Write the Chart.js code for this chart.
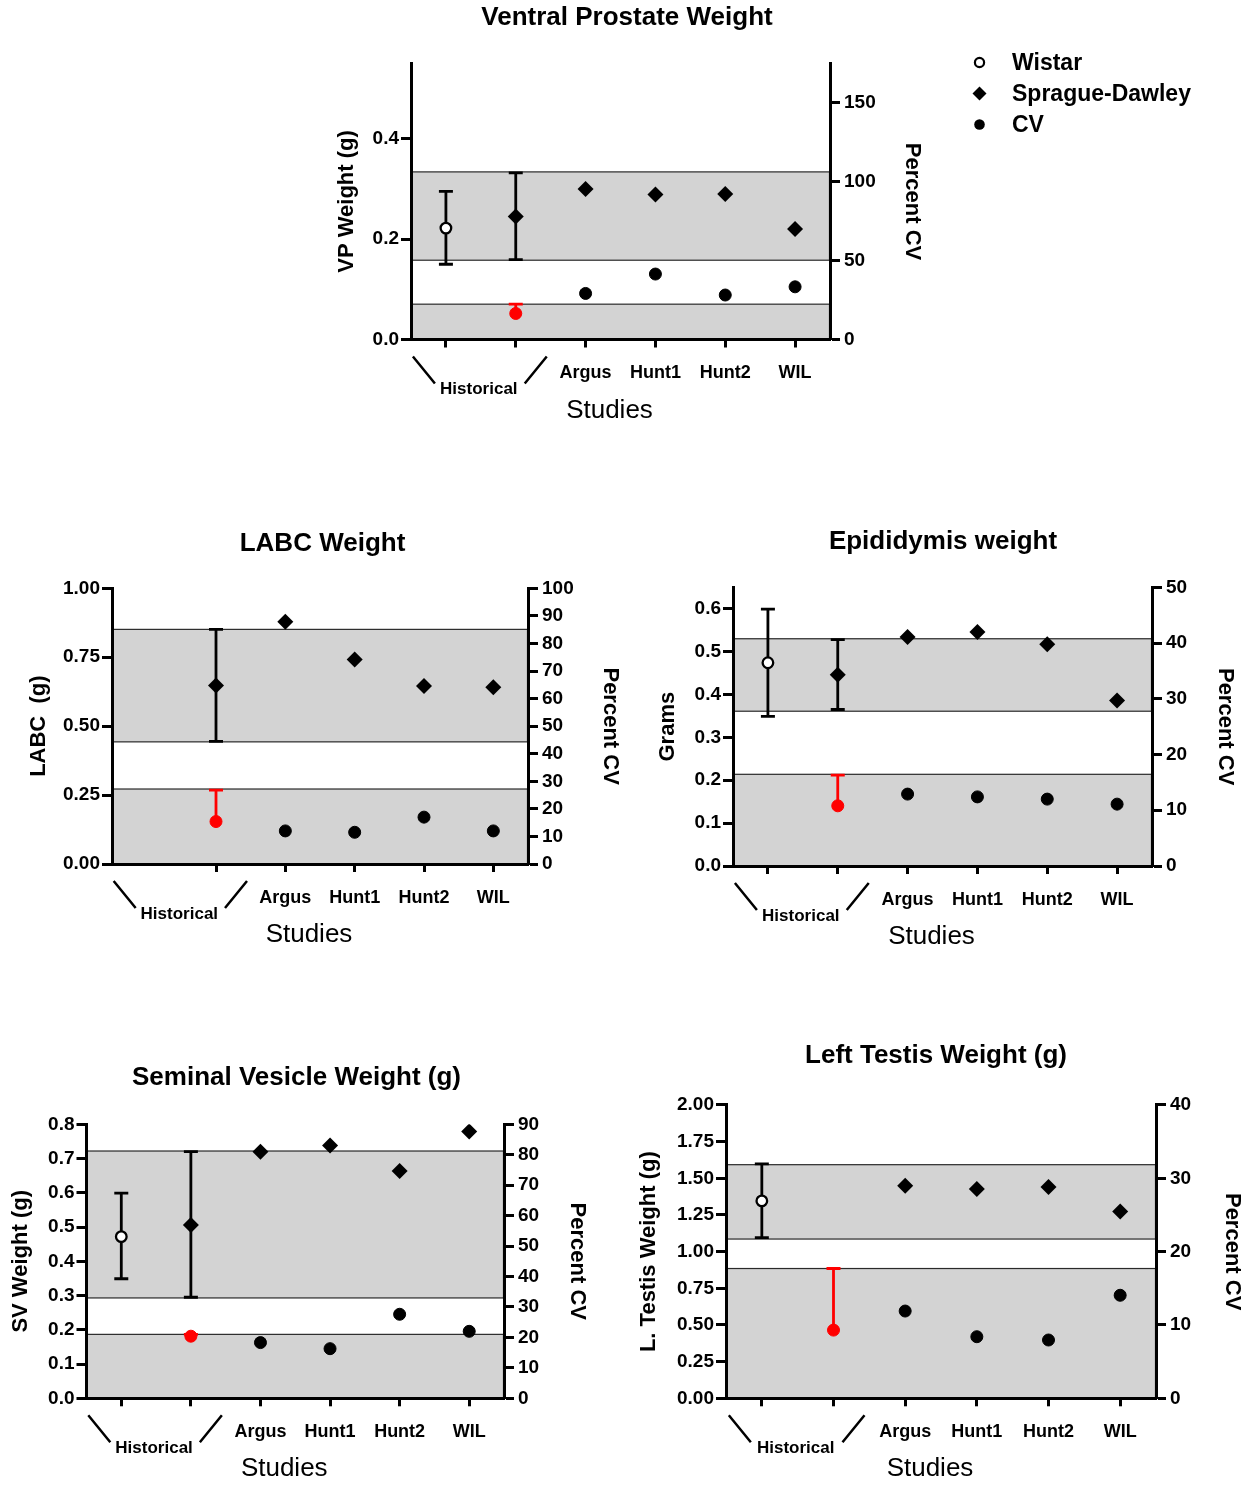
<!DOCTYPE html>
<html>
<head>
<meta charset="utf-8">
<title>Organ weights – historical control ranges</title>
<script src="https://cdn.jsdelivr.net/npm/chart.js@4.4.1/dist/chart.umd.min.js"></script>
<style>
  html, body { margin:0; padding:0; background:#ffffff; }
  #page { position:relative; width:1248px; height:1488px; overflow:hidden; background:#fff; }
  #page canvas { position:absolute; }
  .legend-item { position:absolute; left:969px; height:30px; display:flex; align-items:center;
    font-family:'Liberation Sans', Arial, Helvetica, sans-serif; font-weight:bold; font-size:23px;
    color:#000; white-space:nowrap; z-index:2; }
  .legend-item svg { width:21px; height:21px; margin-right:22px; flex:none; }
</style>
</head>
<body>
<div id="page">
  <canvas id="cVP"></canvas>
  <canvas id="cLABC"></canvas>
  <canvas id="cEPI"></canvas>
  <canvas id="cSV"></canvas>
  <canvas id="cTES"></canvas>
  <div id="legend"></div>
</div>
<script>
// ---------------- shared labels ----------------
const categories = ['Historical Wistar', 'Historical Sprague-Dawley', 'Argus', 'Hunt1', 'Hunt2', 'WIL'];
const categoryTickLabels = ['', '', 'Argus', 'Hunt1', 'Hunt2', 'WIL'];
const groupLabel = 'Historical';
const xAxisTitle = 'Studies';
const rightAxisTitle = 'Percent CV';
const legendLabels = ['Wistar', 'Sprague-Dawley', 'CV'];

// ---------------- Ventral Prostate ----------------
const vpTitle = 'Ventral Prostate Weight';
const vpAxisTitle = 'VP Weight (g)';
const vpWistar      = [0.222, null, null, null, null, null];
const vpWistarLow   = [0.150, null, null, null, null, null];
const vpWistarHigh  = [0.295, null, null, null, null, null];
const vpSD          = [null, 0.245, 0.300, 0.289, 0.290, 0.220];
const vpSDLow       = [null, 0.159, null, null, null, null];
const vpSDHigh      = [null, 0.332, null, null, null, null];
const vpCV          = [null, 16.5, 29.2, 41.5, 28.2, 33.4];
const vpCVHigh      = [null, 22.4, null, null, null, null];
const vpWeightBand  = [0.158, 0.334];
const vpCVBand      = [0, 22.4];
const vpLeftMax = 0.55, vpRightMax = 175;
const vpLeftTicks = [0, 0.2, 0.4];
const vpLeftTickLabels = ['0.0', '0.2', '0.4'];
const vpRightTicks = [0, 50, 100, 150];
const vpRightTickLabels = ['0', '50', '100', '150'];

// ---------------- LABC ----------------
const labcTitle = 'LABC Weight';
const labcAxisTitle = 'LABC  (g)';
const labcWistar     = [null, null, null, null, null, null];
const labcWistarLow  = [null, null, null, null, null, null];
const labcWistarHigh = [null, null, null, null, null, null];
const labcSD         = [null, 0.647, 0.879, 0.742, 0.646, 0.641];
const labcSDLow      = [null, 0.445, null, null, null, null];
const labcSDHigh     = [null, 0.851, null, null, null, null];
const labcCV         = [null, 15.4, 12.0, 11.5, 17.0, 12.0];
const labcCVHigh     = [null, 26.8, null, null, null, null];
const labcWeightBand = [0.443, 0.851];
const labcCVBand     = [0, 27.2];
const labcLeftMax = 1.0, labcRightMax = 100;
const labcLeftTicks = [0, 0.25, 0.5, 0.75, 1.0];
const labcLeftTickLabels = ['0.00', '0.25', '0.50', '0.75', '1.00'];
const labcRightTicks = [0, 10, 20, 30, 40, 50, 60, 70, 80, 90, 100];
const labcRightTickLabels = ['0', '10', '20', '30', '40', '50', '60', '70', '80', '90', '100'];

// ---------------- Epididymis ----------------
const epiTitle = 'Epididymis weight';
const epiAxisTitle = 'Grams';
const epiWistar     = [0.474, null, null, null, null, null];
const epiWistarLow  = [0.349, null, null, null, null, null];
const epiWistarHigh = [0.599, null, null, null, null, null];
const epiSD         = [null, 0.446, 0.534, 0.546, 0.517, 0.386];
const epiSDLow      = [null, 0.365, null, null, null, null];
const epiSDHigh     = [null, 0.528, null, null, null, null];
const epiCV         = [null, 10.8, 12.9, 12.4, 12.0, 11.1];
const epiCVHigh     = [null, 16.3, null, null, null, null];
const epiWeightBand = [0.361, 0.530];
const epiCVBand     = [0, 16.45];
const epiLeftMax = 0.65, epiRightMax = 50;
const epiLeftTicks = [0, 0.1, 0.2, 0.3, 0.4, 0.5, 0.6];
const epiLeftTickLabels = ['0.0', '0.1', '0.2', '0.3', '0.4', '0.5', '0.6'];
const epiRightTicks = [0, 10, 20, 30, 40, 50];
const epiRightTickLabels = ['0', '10', '20', '30', '40', '50'];

// ---------------- Seminal Vesicle ----------------
const svTitle = 'Seminal Vesicle Weight (g)';
const svAxisTitle = 'SV Weight (g)';
const svWistar     = [0.472, null, null, null, null, null];
const svWistarLow  = [0.349, null, null, null, null, null];
const svWistarHigh = [0.599, null, null, null, null, null];
const svSD         = [null, 0.506, 0.720, 0.738, 0.664, 0.779];
const svSDLow      = [null, 0.295, null, null, null, null];
const svSDHigh     = [null, 0.720, null, null, null, null];
const svCV         = [null, 20.4, 18.3, 16.3, 27.6, 22.0];
const svCVHigh     = [null, 21.0, null, null, null, null];
const svWeightBand = [0.293, 0.722];
const svCVBand     = [0, 21.0];
const svLeftMax = 0.8, svRightMax = 90;
const svLeftTicks = [0, 0.1, 0.2, 0.3, 0.4, 0.5, 0.6, 0.7, 0.8];
const svLeftTickLabels = ['0.0', '0.1', '0.2', '0.3', '0.4', '0.5', '0.6', '0.7', '0.8'];
const svRightTicks = [0, 10, 20, 30, 40, 50, 60, 70, 80, 90];
const svRightTickLabels = ['0', '10', '20', '30', '40', '50', '60', '70', '80', '90'];

// ---------------- Left Testis ----------------
const tesTitle = 'Left Testis Weight (g)';
const tesAxisTitle = 'L. Testis Weight (g)';
const tesWistar     = [1.346, null, null, null, null, null];
const tesWistarLow  = [1.096, null, null, null, null, null];
const tesWistarHigh = [1.598, null, null, null, null, null];
const tesSD         = [null, null, 1.450, 1.427, 1.441, 1.273];
const tesSDLow      = [null, null, null, null, null, null];
const tesSDHigh     = [null, null, null, null, null, null];
const tesCV         = [null, 9.3, 11.9, 8.4, 7.95, 14.05];
const tesCVHigh     = [null, 17.7, null, null, null, null];
const tesWeightBand = [1.086, 1.593];
const tesCVBand     = [0, 17.7];
const tesLeftMax = 2.0, tesRightMax = 40;
const tesLeftTicks = [0, 0.25, 0.5, 0.75, 1.0, 1.25, 1.5, 1.75, 2.0];
const tesLeftTickLabels = ['0.00', '0.25', '0.50', '0.75', '1.00', '1.25', '1.50', '1.75', '2.00'];
const tesRightTicks = [0, 10, 20, 30, 40];
const tesRightTickLabels = ['0', '10', '20', '30', '40'];

// ---------------- styling ----------------
const FONT = "'Liberation Sans', Arial, Helvetica, sans-serif";
const RED = '#ff0000';
const BAND_FILL = '#d3d3d3';
const BAND_EDGE = '#2a2a2a';
const TITLE_SIZE = 26, AXIS_TITLE_SIZE = 22, TICK_SIZE = 19, CAT_SIZE = 18;
const CAP = 7;
Chart.defaults.font.family = FONT;
Chart.defaults.color = '#000';

function makeChart(canvasId, g, s) {
  const cw = Math.round(2 * (g.titleX - g.cx));
  const ch = Math.round(g.B + 95 - g.cy);
  const cv = document.getElementById(canvasId);
  cv.width = cw; cv.height = ch;
  cv.style.left = g.cx + 'px'; cv.style.top = g.cy + 'px';
  cv.style.width = cw + 'px'; cv.style.height = ch + 'px';

  const wl = g.L - g.cx;
  const wr = g.cx + cw - g.R;
  const hb = g.cy + ch - g.B;
  const tTop = g.titleY - g.cy - TITLE_SIZE * 0.6;
  const tBottom = g.T - g.cy - tTop - TITLE_SIZE * 1.2;
  const lPad = g.leftTitleX - g.cx - AXIS_TITLE_SIZE * 0.6;
  const rPad = g.cx + cw - g.rightTitleX - AXIS_TITLE_SIZE * 0.6;

  const tickFont = { family: FONT, size: TICK_SIZE, weight: 'bold' };
  const axisTitleFont = { family: FONT, size: AXIS_TITLE_SIZE, weight: 'bold' };
  const yGrid = { display: true, drawOnChartArea: false, drawTicks: true, tickLength: 10, tickWidth: 3, tickColor: '#000' };
  const axisBorder = { display: true, width: 3, color: '#000' };

  const bandPlugin = {
    id: 'bands_' + canvasId,
    beforeDraw(chart) {
      const { ctx, chartArea: a, scales } = chart;
      ctx.save();
      const drawBand = (scale, lo, hi) => {
        const yTop = scale.getPixelForValue(hi), yBot = scale.getPixelForValue(lo);
        ctx.fillStyle = BAND_FILL;
        ctx.fillRect(a.left, yTop, a.right - a.left, yBot - yTop);
        ctx.strokeStyle = BAND_EDGE; ctx.lineWidth = 1.2;
        ctx.strokeRect(a.left + 0.5, yTop, a.right - a.left - 1, yBot - yTop);
      };
      drawBand(scales.y, s.weightBand[0], s.weightBand[1]);
      drawBand(scales.y1, s.cvBand[0], s.cvBand[1]);
      ctx.restore();
    }
  };

  const errorPlugin = {
    id: 'errors_' + canvasId,
    beforeDatasetsDraw(chart) {
      const ctx = chart.ctx, x = chart.scales.x;
      const bars = [
        { scale: chart.scales.y, low: s.wistarLow, high: s.wistarHigh, color: '#000', both: true },
        { scale: chart.scales.y, low: s.sdLow, high: s.sdHigh, color: '#000', both: true },
        { scale: chart.scales.y1, low: s.cv, high: s.cvHigh, color: RED, both: false }
      ];
      ctx.save();
      ctx.lineWidth = 2.8;
      bars.forEach(b => {
        b.high.forEach((hv, i) => {
          const lv = b.low[i];
          if (hv == null || lv == null) return;
          const px = x.getPixelForValue(i);
          const yTop = b.scale.getPixelForValue(hv), yBot = b.scale.getPixelForValue(lv);
          ctx.strokeStyle = b.color;
          ctx.beginPath();
          ctx.moveTo(px, yBot); ctx.lineTo(px, yTop);
          ctx.moveTo(px - CAP, yTop); ctx.lineTo(px + CAP, yTop);
          if (b.both) { ctx.moveTo(px - CAP, yBot); ctx.lineTo(px + CAP, yBot); }
          ctx.stroke();
        });
      });
      ctx.restore();
    }
  };

  const groupPlugin = {
    id: 'group_' + canvasId,
    afterDraw(chart) {
      const ctx = chart.ctx, a = chart.chartArea, x = chart.scales.x;
      const x0 = x.getPixelForValue(0), x1 = x.getPixelForValue(1), B = a.bottom;
      ctx.save();
      ctx.strokeStyle = '#000'; ctx.lineWidth = 2.5;
      ctx.beginPath();
      ctx.moveTo(x0 - 33, B + 17); ctx.lineTo(x0 - 11, B + 44);
      ctx.moveTo(x1 + 31, B + 17); ctx.lineTo(x1 + 9, B + 44);
      ctx.stroke();
      ctx.fillStyle = '#000'; ctx.textAlign = 'center'; ctx.textBaseline = 'middle';
      ctx.font = 'bold 17px ' + FONT;
      ctx.fillText(groupLabel, (x0 + x1) / 2 - 2, B + 50);
      ctx.font = '26px ' + FONT;
      ctx.fillText(xAxisTitle, (a.left + a.right) / 2 - 11, B + 71);
      ctx.restore();
    }
  };

  return new Chart(cv, {
    type: 'line',
    data: {
      labels: categories,
      datasets: [
        { label: legendLabels[0], data: s.wistar, yAxisID: 'y', showLine: false,
          pointStyle: 'circle', pointRadius: 5.3, pointBorderWidth: 2.3,
          pointBackgroundColor: '#fff', pointBorderColor: '#000' },
        { label: legendLabels[1], data: s.sd, yAxisID: 'y', showLine: false,
          pointStyle: 'rectRot', pointRadius: 8, pointBorderWidth: 0,
          pointBackgroundColor: '#000', pointBorderColor: '#000' },
        { label: legendLabels[2], data: s.cv, yAxisID: 'y1', showLine: false,
          pointStyle: 'circle', pointRadius: 6, pointBorderWidth: 1,
          pointBackgroundColor: s.cv.map((v, i) => i === 1 ? RED : '#000'),
          pointBorderColor: s.cv.map((v, i) => i === 1 ? RED : '#000') }
      ]
    },
    options: {
      responsive: false,
      animation: false,
      events: [],
      layout: { padding: 0 },
      plugins: {
        legend: { display: false },
        tooltip: { enabled: false },
        title: { display: true, text: s.title, color: '#000',
          font: { family: FONT, size: TITLE_SIZE, weight: 'bold' },
          padding: { top: tTop, bottom: tBottom } }
      },
      scales: {
        x: {
          type: 'category', offset: true,
          grid: { display: true, drawOnChartArea: false, drawTicks: true, tickLength: 8, tickWidth: 3,
                  offset: false,
                  tickColor: (ctx) => (s.hideFirstTick && ctx.index === 0) ? 'rgba(0,0,0,0)' : '#000' },
          border: axisBorder,
          ticks: { autoSkip: false, maxRotation: 0, minRotation: 0, padding: 15, color: '#000',
                   font: { family: FONT, size: CAT_SIZE, weight: 'bold' },
                   callback: (v, i) => categoryTickLabels[i] },
          afterFit: (sc) => { sc.height = hb; }
        },
        y: {
          type: 'linear', position: 'left', min: 0, max: s.leftMax,
          afterBuildTicks: (sc) => { sc.ticks = s.leftTicks.map(v => ({ value: v })); },
          ticks: { autoSkip: false, padding: 2, color: '#000', font: tickFont,
                   callback: (v, i) => s.leftTickLabels[i] },
          grid: yGrid, border: axisBorder,
          title: { display: true, text: s.leftTitle, color: '#000', font: axisTitleFont,
                   padding: { top: lPad, bottom: 0 } },
          afterFit: (sc) => { sc.width = wl; }
        },
        y1: {
          type: 'linear', position: 'right', min: 0, max: s.rightMax,
          afterBuildTicks: (sc) => { sc.ticks = s.rightTicks.map(v => ({ value: v })); },
          ticks: { autoSkip: false, padding: 4, color: '#000', font: tickFont,
                   callback: (v, i) => s.rightTickLabels[i] },
          grid: yGrid, border: axisBorder,
          title: { display: true, text: rightAxisTitle, color: '#000', font: axisTitleFont,
                   padding: { top: rPad, bottom: 0 } },
          afterFit: (sc) => { sc.width = wr; }
        }
      }
    },
    plugins: [bandPlugin, errorPlugin, groupPlugin]
  });
}

makeChart('cVP',
  { cx: 277, cy: 0, L: 411, R: 830, T: 63.5, B: 339.5, titleX: 627, titleY: 17.7, leftTitleX: 347, rightTitleX: 912 },
  { title: vpTitle, leftTitle: vpAxisTitle, wistar: vpWistar, wistarLow: vpWistarLow, wistarHigh: vpWistarHigh,
    sd: vpSD, sdLow: vpSDLow, sdHigh: vpSDHigh, cv: vpCV, cvHigh: vpCVHigh,
    weightBand: vpWeightBand, cvBand: vpCVBand, leftMax: vpLeftMax, rightMax: vpRightMax,
    leftTicks: vpLeftTicks, leftTickLabels: vpLeftTickLabels, rightTicks: vpRightTicks, rightTickLabels: vpRightTickLabels,
    hideFirstTick: false });

makeChart('cLABC',
  { cx: 12, cy: 510, L: 112, R: 528, T: 588.3, B: 864, titleX: 322.5, titleY: 544.3, leftTitleX: 39, rightTitleX: 610 },
  { title: labcTitle, leftTitle: labcAxisTitle, wistar: labcWistar, wistarLow: labcWistarLow, wistarHigh: labcWistarHigh,
    sd: labcSD, sdLow: labcSDLow, sdHigh: labcSDHigh, cv: labcCV, cvHigh: labcCVHigh,
    weightBand: labcWeightBand, cvBand: labcCVBand, leftMax: labcLeftMax, rightMax: labcRightMax,
    leftTicks: labcLeftTicks, leftTickLabels: labcLeftTickLabels, rightTicks: labcRightTicks, rightTickLabels: labcRightTickLabels,
    hideFirstTick: true });

makeChart('cEPI',
  { cx: 640, cy: 508, L: 733, R: 1152, T: 587.3, B: 866, titleX: 943, titleY: 542, leftTitleX: 668, rightTitleX: 1225 },
  { title: epiTitle, leftTitle: epiAxisTitle, wistar: epiWistar, wistarLow: epiWistarLow, wistarHigh: epiWistarHigh,
    sd: epiSD, sdLow: epiSDLow, sdHigh: epiSDHigh, cv: epiCV, cvHigh: epiCVHigh,
    weightBand: epiWeightBand, cvBand: epiCVBand, leftMax: epiLeftMax, rightMax: epiRightMax,
    leftTicks: epiLeftTicks, leftTickLabels: epiLeftTickLabels, rightTicks: epiRightTicks, rightTickLabels: epiRightTickLabels,
    hideFirstTick: false });

makeChart('cSV',
  { cx: 0, cy: 1040, L: 86.5, R: 504, T: 1124.3, B: 1398.3, titleX: 296.5, titleY: 1078, leftTitleX: 20.5, rightTitleX: 577 },
  { title: svTitle, leftTitle: svAxisTitle, wistar: svWistar, wistarLow: svWistarLow, wistarHigh: svWistarHigh,
    sd: svSD, sdLow: svSDLow, sdHigh: svSDHigh, cv: svCV, cvHigh: svCVHigh,
    weightBand: svWeightBand, cvBand: svCVBand, leftMax: svLeftMax, rightMax: svRightMax,
    leftTicks: svLeftTicks, leftTickLabels: svLeftTickLabels, rightTicks: svRightTicks, rightTickLabels: svRightTickLabels,
    hideFirstTick: false });

makeChart('cTES',
  { cx: 626, cy: 1020, L: 726, R: 1156, T: 1105, B: 1398.3, titleX: 936, titleY: 1056, leftTitleX: 649, rightTitleX: 1232 },
  { title: tesTitle, leftTitle: tesAxisTitle, wistar: tesWistar, wistarLow: tesWistarLow, wistarHigh: tesWistarHigh,
    sd: tesSD, sdLow: tesSDLow, sdHigh: tesSDHigh, cv: tesCV, cvHigh: tesCVHigh,
    weightBand: tesWeightBand, cvBand: tesCVBand, leftMax: tesLeftMax, rightMax: tesRightMax,
    leftTicks: tesLeftTicks, leftTickLabels: tesLeftTickLabels, rightTicks: tesRightTicks, rightTickLabels: tesRightTickLabels,
    hideFirstTick: false });

// ---------------- legend ----------------
(function buildLegend() {
  const markers = [
    '<svg viewBox="0 0 21 21"><circle cx="10.5" cy="10.5" r="4.6" fill="#fff" stroke="#000" stroke-width="2.2"/></svg>',
    '<svg viewBox="0 0 21 21"><polygon points="10.5,3.5 17.5,10.5 10.5,17.5 3.5,10.5" fill="#000"/></svg>',
    '<svg viewBox="0 0 21 21"><circle cx="10.5" cy="10.5" r="5.3" fill="#000"/></svg>'
  ];
  const centersY = [62, 93.5, 124.5];
  const host = document.getElementById('legend');
  legendLabels.forEach((lab, i) => {
    const d = document.createElement('div');
    d.className = 'legend-item';
    d.style.top = (centersY[i] - 15) + 'px';
    d.innerHTML = markers[i];
    const sp = document.createElement('span');
    sp.textContent = lab;
    d.appendChild(sp);
    host.appendChild(d);
  });
})();
</script>
</body>
</html>
